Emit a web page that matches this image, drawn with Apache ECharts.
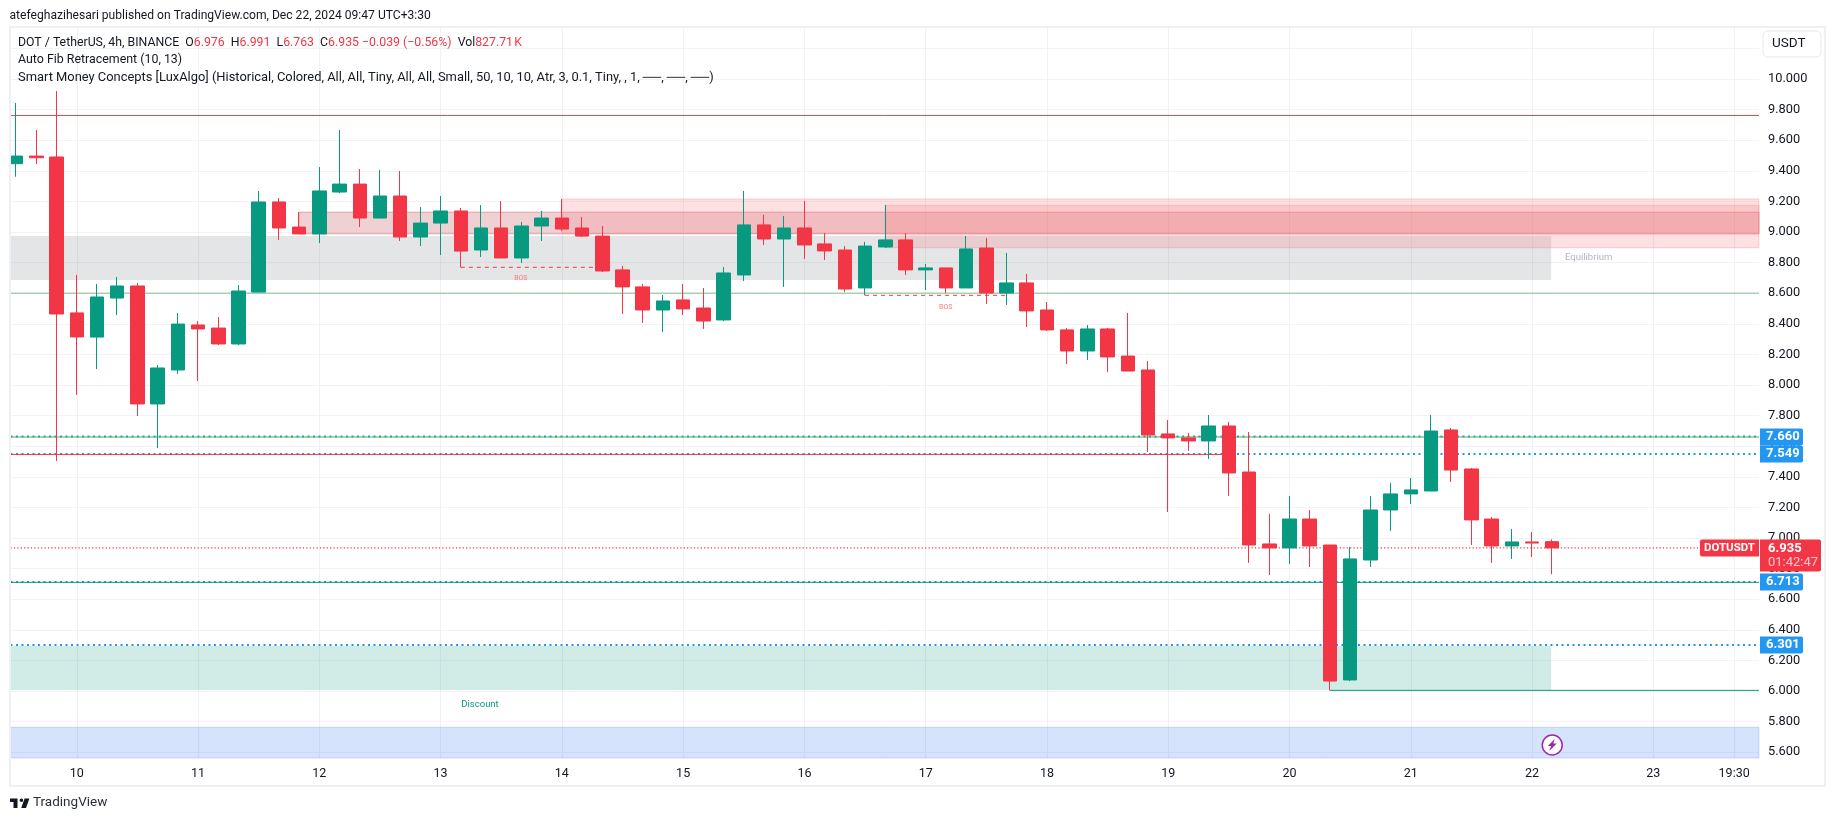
<!DOCTYPE html>
<html><head><meta charset="utf-8">
<style>html,body{margin:0;padding:0;background:#fff}#c{width:1835px;height:821px}</style>
<script src="https://cdn.jsdelivr.net/npm/echarts@6/dist/echarts.min.js"></script>
</head><body><div id="c"></div>
<script>
const opens=[9.446,9.496,9.490,8.471,8.313,8.568,8.647,7.876,8.098,8.392,8.372,8.268,8.607,9.196,9.032,8.987,9.261,9.313,9.091,9.235,8.967,9.058,9.137,8.882,9.026,8.830,9.039,9.091,9.026,8.973,8.752,8.641,8.490,8.556,8.503,8.425,8.719,9.046,8.954,9.026,8.922,8.882,8.634,8.902,8.948,8.752,8.765,8.634,8.895,8.601,8.667,8.490,8.360,8.222,8.366,8.189,8.098,7.680,7.654,7.634,7.732,7.431,6.961,6.935,7.124,6.954,6.072,6.856,7.183,7.288,7.307,7.706,7.451,7.124,6.948,6.974,6.976];
const closes=[9.496,9.485,8.464,8.314,8.575,8.647,7.876,8.111,8.398,8.366,8.268,8.614,9.196,9.026,8.987,9.268,9.313,9.091,9.235,8.967,9.058,9.137,8.875,9.026,8.830,9.039,9.091,9.019,8.973,8.745,8.641,8.490,8.549,8.497,8.418,8.732,9.046,8.954,9.026,8.915,8.876,8.627,8.908,8.948,8.752,8.765,8.634,8.889,8.601,8.667,8.484,8.360,8.222,8.366,8.183,8.091,7.673,7.654,7.634,7.732,7.425,6.954,6.935,7.124,6.948,6.065,6.863,7.183,7.288,7.314,7.699,7.444,7.118,6.948,6.974,6.967,6.935];
const lows=[9.361,9.444,7.503,7.935,8.104,8.457,7.797,7.588,8.072,8.026,8.261,8.261,8.607,8.947,8.987,8.928,9.254,9.032,9.091,8.941,8.908,8.849,8.769,8.836,8.830,8.797,8.941,9.006,8.967,8.738,8.464,8.405,8.346,8.457,8.366,8.418,8.680,8.915,8.641,8.824,8.817,8.608,8.586,8.896,8.719,8.621,8.601,8.634,8.529,8.523,8.379,8.353,8.137,8.163,8.085,8.091,7.562,7.170,7.569,7.516,7.275,6.837,6.758,6.830,6.810,6.004,6.065,6.810,7.046,7.222,7.307,7.366,6.954,6.837,6.863,6.876,6.763];
const highs=[9.843,9.666,9.921,8.719,8.660,8.706,8.666,8.130,8.470,8.418,8.444,8.653,9.268,9.222,9.130,9.424,9.666,9.411,9.405,9.398,9.163,9.235,9.157,9.176,9.202,9.065,9.137,9.215,9.098,9.039,8.778,8.660,8.588,8.660,8.634,8.771,9.268,9.111,9.105,9.203,8.993,8.908,8.935,9.176,8.993,8.791,8.765,8.974,8.961,8.863,8.726,8.542,8.373,8.392,8.373,8.471,8.157,7.771,7.686,7.804,7.758,7.693,7.157,7.275,7.183,6.954,6.941,7.275,7.360,7.392,7.804,7.719,7.458,7.137,7.059,7.039,6.991];
const yTicks=[5.6,5.8,6.0,6.2,6.4,6.6,6.8,7.0,7.2,7.4,7.6,7.8,8.0,8.2,8.4,8.6,8.8,9.0,9.2,9.4,9.6,9.8,10.0,10.2];
const xTickBars=[3,9,15,21,27,33,39,45,51,57,63,69,75,81,85];
const xTickLabels=['10','11','12','13','14','15','16','17','18','19','20','21','22','23','19:30'];
const xMin=-0.28,xMax=86.23,yMin=5.562,yMax=10.333;
const UP='#089981',DOWN='#f23645',BLUE='#2196f3';
const lastPrice=6.935;

const candleData=opens.map((o,i)=>[i,o,closes[i],lows[i],highs[i]]);
const zones=[
 {x:[xMin,75.95],y:[8.974,8.686],fill:'rgba(120,123,134,0.2)',border:'rgba(0,0,0,0)'},
 {x:[xMin,75.95],y:[6.294,6.007],fill:'rgba(8,153,129,0.19)',border:'rgba(0,0,0,0)'},
 {x:[xMin,xMax],y:[5.763,5.562],fill:'rgba(39,108,239,0.19)',border:'rgba(39,108,239,0.2)'},
 {x:[14,xMax],y:[9.130,8.987],fill:'rgba(178,40,51,0.21)',border:'rgba(178,40,51,0.3)'},
 {x:[27,xMax],y:[9.216,8.989],fill:'rgba(247,124,128,0.24)',border:'rgba(247,124,128,0.3)'},
 {x:[43,xMax],y:[9.174,8.897],fill:'rgba(247,124,128,0.24)',border:'rgba(247,124,128,0.3)'}
];
const levels=[
 {x:[xMin,xMax],v:7.663,c:BLUE,w:2,t:[2,3.5]},
 {x:[xMin,xMax],v:7.549,c:BLUE,w:2,t:[2,3.5]},
 {x:[xMin,xMax],v:6.713,c:BLUE,w:2,t:[2,3.5]},
 {x:[xMin,xMax],v:6.301,c:BLUE,w:2,t:[2,3.5]},
 {x:[xMin,xMax],v:9.761,c:'#e2503f',w:1,t:'solid'},
 {x:[xMin,xMax],v:8.600,c:'#81bd8a',w:1,t:'solid'},
 {x:[xMin,xMax],v:7.660,c:'#4caf50',w:1,t:'solid'},
 {x:[xMin,60],v:7.546,c:'#f23645',w:1,t:'solid'},
 {x:[xMin,xMax],v:6.710,c:'#089981',w:1,t:'solid'},
 {x:[65,xMax],v:6.004,c:'#089981',w:1,t:'solid'},
 {x:[xMin,xMax],v:lastPrice,c:DOWN,w:1.2,t:[1.2,2.2]},
 {x:[22,29],v:8.769,c:DOWN,w:1,t:[4,4]},
 {x:[42,49],v:8.586,c:DOWN,w:1,t:[4,4]}
];
const FONT='Roboto';
const note=(x,v,text,color,size)=>({coord:[x,v],symbolSize:0,label:{show:true,position:'inside',formatter:text,color,fontSize:size,fontFamily:FONT}});
const priceTag=v=>({coord:[xMax,v],symbolSize:0,label:{show:true,position:'right',distance:1,formatter:v.toFixed(3),
  backgroundColor:BLUE,color:'#fff',fontWeight:'bold',fontSize:13,fontFamily:FONT,width:32,height:13,lineHeight:13,padding:[2,5,2,6],borderRadius:[0,2,2,0]}});
const series=[
 {type:'line',name:'zones',data:[],z:1,silent:true,
  markArea:{silent:true,z:1,data:zones.map(o=>[
    {coord:[o.x[0],o.y[0]],itemStyle:{color:o.fill,borderColor:o.border,borderWidth:1}},
    {coord:[o.x[1],o.y[1]]}])}},
 ...levels.map(l=>({type:'line',data:[[l.x[0],l.v],[l.x[1],l.v]],symbol:'none',silent:true,z:2,animation:false,
    lineStyle:{color:l.c,width:l.w,type:l.t}})),
 {type:'candlestick',name:'DOTUSDT',data:candleData,encode:{x:0,y:[1,2,3,4]},z:3,barWidth:14,
  itemStyle:{color:UP,color0:DOWN,borderColor:UP,borderColor0:DOWN,borderWidth:1}},
 {type:'line',name:'notes',data:[],z:10,silent:true,
  markPoint:{silent:true,symbol:'circle',animation:false,data:[
   note(77.8,8.83,'Equilibrium','#b2b5be',9.5),
   note(22.95,5.913,'Discount','#089981',9.5),
   note(24.97,8.697,'BOS','#f77c80',7),
   note(45.99,8.510,'BOS','#f77c80',7),
   priceTag(7.660),priceTag(7.549),priceTag(6.713),priceTag(6.301),
   {coord:[xMax,lastPrice],symbolSize:0,label:{show:true,position:'left',distance:0,formatter:'DOTUSDT',backgroundColor:DOWN,color:'#fff',fontWeight:'bold',fontSize:11.5,fontFamily:FONT,height:13,lineHeight:13,padding:[2,4,2,4],borderRadius:[2,0,0,2]}},
   {coord:[xMax,lastPrice],symbolSize:0,label:{show:true,position:'right',distance:1,offset:[0,7.5],
     formatter:'{a|6.935}\n{b|01:42:47}',backgroundColor:DOWN,padding:[2,5,2,8],width:48,borderRadius:[0,2,2,0],
     rich:{a:{color:'#fff',fontWeight:'bold',fontSize:13,fontFamily:FONT,lineHeight:14},b:{color:'#fbc9cd',fontSize:13,fontFamily:FONT,lineHeight:14}}}},
   {coord:[76,5.647],symbol:'circle',symbolSize:20,itemStyle:{color:'#fff',borderColor:'#9c27b0',borderWidth:1.5}},
   {coord:[76,5.647],symbol:'path://M7 0L0 7H3.5L1.5 12L9 4.5H5.5Z',symbolSize:[9,12],itemStyle:{color:'#9c27b0'}}
  ]}}
];
const legend1='{k|DOT / TetherUS, 4h, BINANCE  O}{r|6.976}{k|  H}{r|6.991}{k|  L}{r|6.763}{k|  C}{r|6.935}{r| \u22120.039 (\u22120.56%)}{k|  Vol}{r|827.71\u200aK}';
const textEl=(x,y,text,size,color,extra)=>({type:'text',z:100,silent:true,style:Object.assign({x,y,text,fontSize:size,fontFamily:FONT,fill:color,textVerticalAlign:'middle'},extra||{})});
const chart=echarts.init(document.getElementById('c'));
chart.setOption({
 animation:false,backgroundColor:'#fff',
 grid:{left:10.5,top:28,width:1748.5,height:730,containLabel:false},
 xAxis:{type:'value',min:xMin,max:xMax,
  axisLine:{show:false},axisTick:{show:false,customValues:xTickBars},
  axisLabel:{customValues:xTickBars,margin:9,fontSize:12.5,fontFamily:FONT,color:'#131722',formatter:v=>xTickLabels[xTickBars.indexOf(v)]||'',showMinLabel:true,showMaxLabel:true},
  splitLine:{show:true,lineStyle:{color:'#eff1f4',width:1}}},
 yAxis:{type:'value',position:'right',min:yMin,max:yMax,
  axisLine:{show:false},axisTick:{show:false,customValues:yTicks},
  axisLabel:{customValues:yTicks,margin:9,fontSize:12.8,fontFamily:FONT,color:'#131722',padding:[2,0,0,0],formatter:v=>v.toFixed(3)},
  splitLine:{show:true,lineStyle:{color:'#f2f3f6',width:1}}},
 series,
 graphic:[
  {type:'rect',z:99,silent:true,shape:{x:10,y:27,width:1815,height:759},style:{fill:'none',stroke:'#eff0f3',lineWidth:2}},
  textEl(9.5,16,'atefeghazihesari published on TradingView.com, Dec 22, 2024 09:47 UTC+3:30',12.1,'#131722'),
  {type:'text',z:100,silent:true,style:{x:18,y:43,text:legend1,textVerticalAlign:'middle',rich:{k:{fontSize:12.3,fontFamily:FONT,fill:'#131722',color:'#131722'},r:{fontSize:12.3,fontFamily:FONT,fill:'#f23645',color:'#f23645'}}}},
  textEl(18,60,'Auto Fib Retracement (10, 13)',12.4,'#131722'),
  textEl(18,77.5,'Smart Money Concepts [LuxAlgo] (Historical, Colored, All, All, Tiny, All, All, Small, 50, 10, 10, Atr, 3, 0.1, Tiny, , 1, \u2500\u2500, \u2500\u2500, \u2500\u2500)',12.9,'#131722'),
  {type:'rect',z:100,silent:true,shape:{x:1763,y:31,width:58,height:26,r:5},style:{fill:'#fff',stroke:'#eff0f3',lineWidth:1.5}},
  textEl(1772,44,'USDT',13.5,'#131722'),
  {type:'polygon',z:100,silent:true,shape:{points:[[10,798.5],[17.5,798.5],[17.5,808],[13.5,808],[13.5,802],[10,802]]},style:{fill:'#131722'}},
  {type:'polygon',z:100,silent:true,shape:{points:[[21.2,808],[24.6,798.5],[29.4,798.5],[26,808]]},style:{fill:'#131722'}},
  {type:'circle',z:100,silent:true,shape:{cx:21.4,cy:800.3,r:1.8},style:{fill:'#131722'}},
  textEl(33,803,'TradingView',13.5,'#2a2e39')
 ]
});
</script></body></html>
